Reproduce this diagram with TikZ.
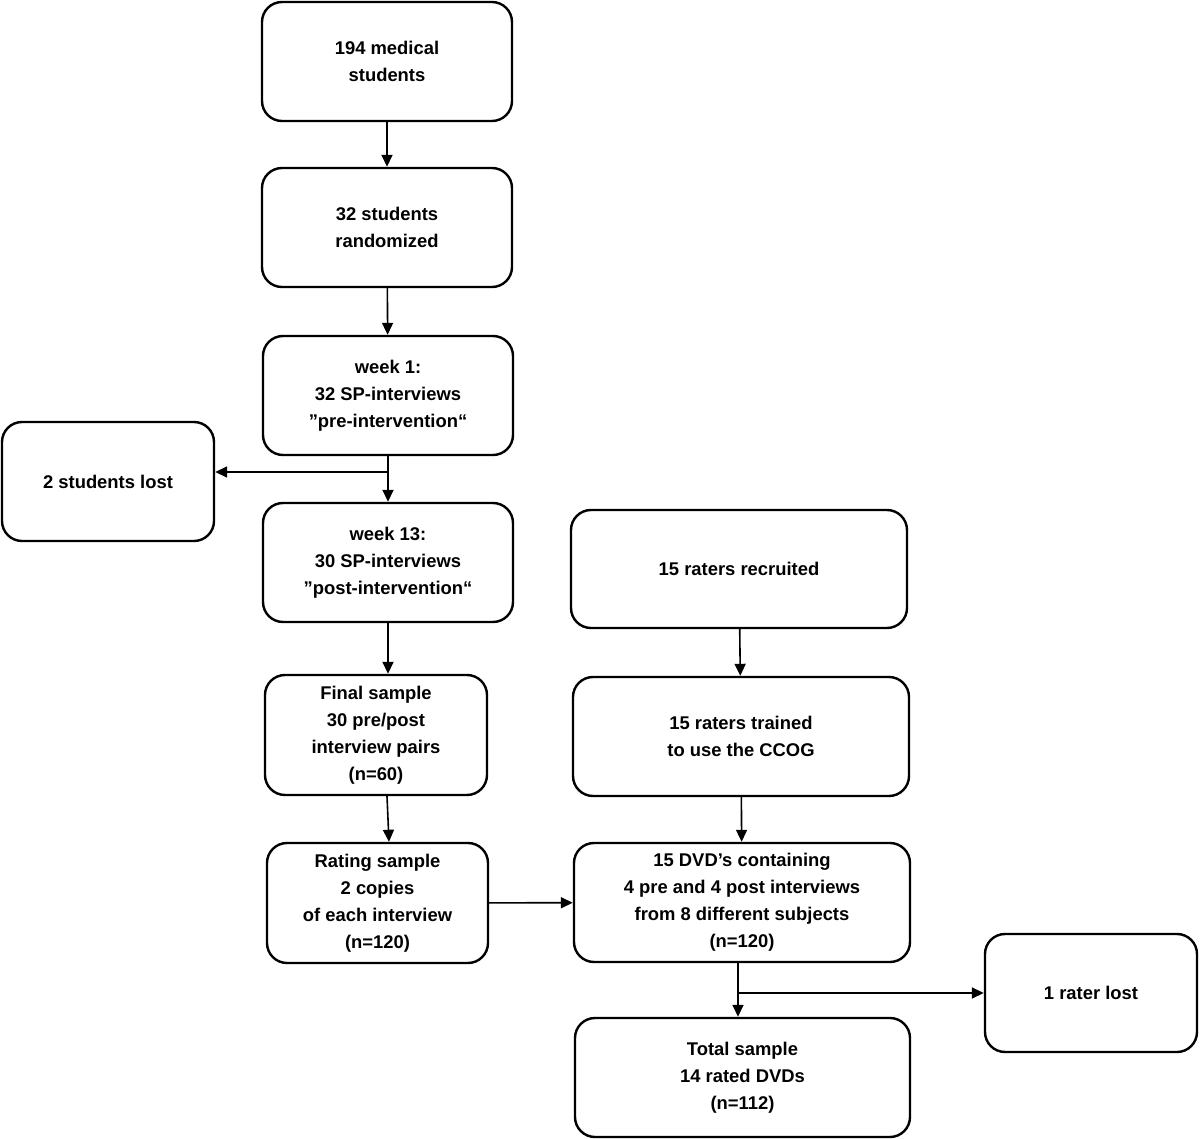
\documentclass[tikz,border=0pt]{standalone}
\usepackage{fontspec}
\setmainfont{Liberation Sans}
\usepackage{tikz}
\usetikzlibrary{arrows, arrows.meta}

\tikzset{
	flowbox/.style={draw=black,line width=1.2pt,rounded corners=10pt,align=center,
		font=\fontsize{9.2}{13.5}\selectfont\bfseries,inner sep=2pt},
	arr/.style={-{Triangle[length=6pt,width=5.5pt]},line width=0.8pt}
}

\begin{document}
\begin{tikzpicture}[x=0.5pt,y=-0.5pt]
	\useasboundingbox (0,0) rectangle (1200,1139);
	
	%left column
	\node[flowbox,minimum width=125pt,minimum height=59.5pt] (students) at (387,61.5) {194 medical\\students};
	\node[flowbox,minimum width=125pt,minimum height=59.5pt] (random) at (387,227.5) {32 students\\randomized};
	\node[flowbox,minimum width=125pt,minimum height=59.5pt] (week1) at (388,395.5) {week 1:\\32 SP-interviews\\”pre-intervention“};
	\node[flowbox,minimum width=106pt,minimum height=59.5pt] (lost) at (108,481.5) {2 students lost};
	\node[flowbox,minimum width=125pt,minimum height=59.5pt] (week13) at (388,562.5) {week 13:\\30 SP-interviews\\”post-intervention“};
	\node[flowbox,minimum width=111pt,minimum height=60pt] (final) at (376,735) {Final sample\\30 pre/post\\interview pairs\\(n=60)};
	\node[flowbox,minimum width=110.5pt,minimum height=60pt] (rating) at (377.5,903) {Rating sample\\2 copies\\of each interview\\(n=120)};
	
	%right column
	\node[flowbox,minimum width=168pt,minimum height=59pt] (recruit) at (739,569) {15 raters recruited};
	\node[flowbox,minimum width=168pt,minimum height=59.5pt] (trained) at (741,736.5) {15 raters trained\\to use the CCOG};
	\node[flowbox,minimum width=168pt,minimum height=59.5pt] (dvd) at (742,902.5) {15 DVD’s containing\\4 pre and 4 post interviews\\from 8 different subjects\\(n=120)};
	\node[flowbox,minimum width=106pt,minimum height=59pt] (raterlost) at (1091,993) {1 rater lost};
	\node[flowbox,minimum width=167.5pt,minimum height=59.5pt] (total) at (742.5,1077.5) {Total sample\\14 rated DVDs\\(n=112)};
	
	%split points
	\coordinate (split1) at (388,472);
	\coordinate (split2) at (738,993);
	
	%arrows
	\draw[arr] (students) -- (random);
	\draw[arr] (random) -- (week1);
	\draw[line width=0.8pt] (week1.south) -- (split1);
	\draw[arr] (split1) -- (week13);
	\draw[arr] (split1) -- (split1 -| lost.east);
	\draw[arr] (week13.south) -- (week13.south |- final.north);
	\draw[arr] ([xshift=5.5pt]final.south) -- ([xshift=5.75pt]rating.north);
	\draw[arr] (rating) -- (dvd);
	%
	\draw[arr] (recruit) -- (trained);
	\draw[arr] (trained) -- (dvd);
	\draw[line width=0.8pt] (split2 |- dvd.south) -- (split2);
	\draw[arr] (split2) -- (split2 |- total.north);
	\draw[arr] (split2) -- (raterlost);
\end{tikzpicture}
\end{document}
